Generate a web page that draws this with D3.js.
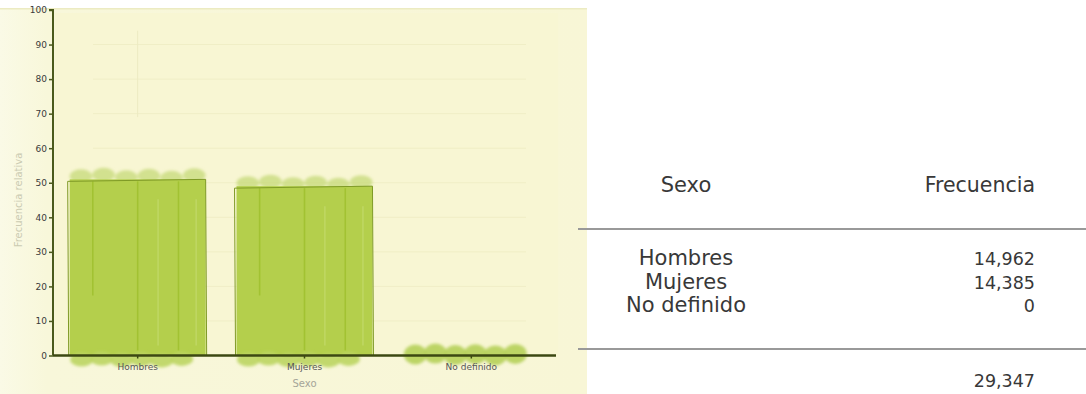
<!DOCTYPE html>
<html>
<head>
<meta charset="utf-8">
<script src="https://cdn.jsdelivr.net/npm/d3@7"></script>
<style>
  html, body { margin: 0; padding: 0; background: #fff; }
  svg { display: block; }
</style>
</head>
<body>
<svg id="chart" width="1086" height="394"></svg>
<script>
// Frecuencia por sexo
const categories = ["Hombres", "Mujeres", "No definido"];
const counts = [14962, 14385, 0];
const yTicks = [0, 10, 20, 30, 40, 50, 60, 70, 80, 90, 100];
const headers = ["Sexo", "Frecuencia"];

const total = d3.sum(counts);
const relative = counts.map(c => c / total * 100);
const fmt = d3.format(",");

const svg = d3.select("#chart");

// Panel background
const bgGrad = svg.append("defs").append("linearGradient").attr("id", "bg")
  .attr("x1", 0).attr("x2", 1).attr("y1", 0).attr("y2", 0);
bgGrad.append("stop").attr("offset", "0%").attr("stop-color", "#fafae6");
bgGrad.append("stop").attr("offset", "8%").attr("stop-color", "#f8f7da");
bgGrad.append("stop").attr("offset", "100%").attr("stop-color", "#f8f6d6");
svg.append("rect").attr("x", 0).attr("y", 8).attr("width", 587).attr("height", 386)
  .attr("fill", "url(#bg)");
svg.append("rect").attr("x", 0).attr("y", 8).attr("width", 587).attr("height", 1.5)
  .attr("fill", "#ecebc2");

const margin = { left: 53, top: 10, right: 556, bottom: 355.5 };
const y = d3.scaleLinear().domain([0, 100]).range([margin.bottom, margin.top]);
const x = d3.scaleBand().domain(categories).range([margin.left, margin.right])
  .paddingInner(0.185).paddingOuter(0.1);

// Plot area tint
svg.append("rect").attr("x", margin.left + 2).attr("y", margin.top + 3)
  .attr("width", margin.right - margin.left).attr("height", margin.bottom - margin.top - 3)
  .attr("fill", "#f8f6d3");

// Faint gridlines
svg.append("g").selectAll("line").data(yTicks.filter(t => t > 0 && t < 100)).join("line")
  .attr("x1", margin.left + 40).attr("x2", margin.right - 30)
  .attr("y1", d => y(d)).attr("y2", d => y(d))
  .attr("stroke", "#f0eec6").attr("stroke-width", 1);
svg.append("line")
  .attr("x1", x("Hombres") + x.bandwidth() / 2).attr("x2", x("Hombres") + x.bandwidth() / 2)
  .attr("y1", y(94)).attr("y2", y(69)).attr("stroke", "#eceac2");

// Soft hand-drawn look
const defs = svg.append("defs");
defs.append("filter").attr("id", "soft").attr("x", "-20%").attr("y", "-50%")
  .attr("width", "140%").attr("height", "200%")
  .append("feGaussianBlur").attr("stdDeviation", 1.8);
defs.append("filter").attr("id", "soft2")
  .append("feGaussianBlur").attr("stdDeviation", 0.6);

const bars = svg.append("g");
const nBlobs = 6;
const rowJitter = [0, -1.5, 1, -0.5, 1.5, -1];

categories.forEach((cat, i) => {
  const x0 = x(cat), w = x.bandwidth();
  const yTop = y(relative[i]);
  const g = bars.append("g");
  if (relative[i] > 0) {
    // blobs above the top edge
    g.append("g").attr("filter", "url(#soft)").selectAll("ellipse")
      .data(d3.range(nBlobs)).join("ellipse")
      .attr("cx", k => x0 + w * (k + 0.5) / nBlobs)
      .attr("cy", k => yTop - 3 + rowJitter[k])
      .attr("rx", w / nBlobs / 2).attr("ry", 7)
      .attr("fill", "#c6da78").attr("opacity", 0.75);
    // bar body
    g.append("rect").attr("x", x0).attr("y", yTop)
      .attr("width", w).attr("height", y(0) - yTop)
      .attr("fill", "#b4cf4c");
    // vertical streaks
    g.append("g").attr("filter", "url(#soft2)").selectAll("line")
      .data([0.17, 0.5, 0.8]).join("line")
      .attr("x1", f => x0 + w * f).attr("x2", f => x0 + w * f)
      .attr("y1", yTop + 2).attr("y2", (f, k) => y(0) - (k === 0 ? 60 : 5))
      .attr("stroke", "#a2c232").attr("stroke-width", 1.6);
    g.append("g").selectAll("line")
      .data([0.65, 0.93]).join("line")
      .attr("x1", f => x0 + w * f).attr("x2", f => x0 + w * f)
      .attr("y1", yTop + 20).attr("y2", y(0) - 10)
      .attr("stroke", "#c2d96a").attr("stroke-width", 1.2);
    // outline
    g.append("path")
      .attr("d", `M${x0 - 1},${y(0)} L${x0 - 2},${yTop + 2} L${x0 + w},${yTop} L${x0 + w + 1},${y(0)}`)
      .attr("fill", "none").attr("stroke", "#7f9a26").attr("stroke-width", 1);
  }
  // blobs along the baseline
  const empty = relative[i] === 0;
  g.append("g").attr("filter", "url(#soft)").selectAll("ellipse")
    .data(d3.range(nBlobs)).join("ellipse")
    .attr("cx", k => x0 + (w - 16) * (k + 0.5) / nBlobs + 2)
    .attr("cy", k => y(0) + (empty ? -1 : 4) + rowJitter[k] * 0.6)
    .attr("rx", (w - 16) / nBlobs / 2 + 1.5).attr("ry", empty ? 10 : 7)
    .attr("fill", empty ? "#b6d05a" : "#bcd562").attr("opacity", 0.9);
});

// Y axis
const yAxis = svg.append("g").attr("transform", `translate(${margin.left},0)`)
  .call(d3.axisLeft(y).tickValues(yTicks).tickSize(4).tickPadding(2));
yAxis.select(".domain").attr("stroke", "#4b5a1c").attr("stroke-width", 2)
  .attr("d", `M-4,${y(100)}H0V${y(0)}`);
yAxis.selectAll(".tick line").attr("stroke", "#4b5a1c").attr("stroke-width", 1.5);
yAxis.selectAll(".tick text").attr("fill", "#3a3a3a").style("font-family", "DejaVu Sans, sans-serif")
  .style("font-size", "9px");

// X axis
const xAxis = svg.append("g").attr("transform", `translate(0,${y(0)})`)
  .call(d3.axisBottom(x).tickSize(3).tickPadding(5));
xAxis.select(".domain").attr("stroke", "#3c4812").attr("stroke-width", 2.5)
  .attr("d", `M${margin.left},0H${margin.right}`);
xAxis.selectAll(".tick line").attr("stroke", "#3c4812").attr("stroke-width", 1.5);
xAxis.selectAll(".tick text").attr("fill", "#555").style("font-family", "DejaVu Sans, sans-serif")
  .style("font-size", "9px");

// Axis titles
svg.append("text").attr("x", (margin.left + margin.right) / 2).attr("y", 387)
  .attr("text-anchor", "middle").attr("fill", "#a5a598")
  .style("font-family", "DejaVu Sans, sans-serif").style("font-size", "10px").text("Sexo");
svg.append("text").attr("transform", `translate(22,${y(45)}) rotate(-90)`)
  .attr("text-anchor", "middle").attr("fill", "#cbcbb2")
  .style("font-family", "DejaVu Sans, sans-serif").style("font-size", "10px")
  .text("Frecuencia relativa");

// Frequency table
const table = svg.append("g").style("font-family", "DejaVu Sans, Verdana, sans-serif")
  .attr("fill", "#383838");
const colSexo = 686, colFreq = 1035;
const wordSize = "21px", numSize = "17.5px";
table.append("text").attr("x", colSexo).attr("y", 192).attr("text-anchor", "middle")
  .style("font-size", wordSize).text(headers[0]);
table.append("text").attr("x", colFreq).attr("y", 192).attr("text-anchor", "end")
  .style("font-size", "20.5px").text(headers[1]);
table.append("line").attr("x1", 578).attr("x2", 1086).attr("y1", 229).attr("y2", 229)
  .attr("stroke", "#999").attr("stroke-width", 2);
const rowY = d3.scalePoint().domain(categories).range([265, 312]);
table.selectAll("text.cat").data(categories).join("text").attr("class", "cat")
  .attr("x", colSexo).attr("y", d => rowY(d)).attr("text-anchor", "middle")
  .style("font-size", wordSize).text(d => d);
table.selectAll("text.val").data(counts).join("text").attr("class", "val")
  .attr("x", colFreq).attr("y", (d, i) => rowY(categories[i])).attr("text-anchor", "end")
  .style("font-size", numSize).text(d => fmt(d));
table.append("line").attr("x1", 578).attr("x2", 1086).attr("y1", 349).attr("y2", 349)
  .attr("stroke", "#999").attr("stroke-width", 2);
table.append("text").attr("x", colFreq).attr("y", 387).attr("text-anchor", "end")
  .style("font-size", numSize).text(fmt(total));
</script>
</body>
</html>
